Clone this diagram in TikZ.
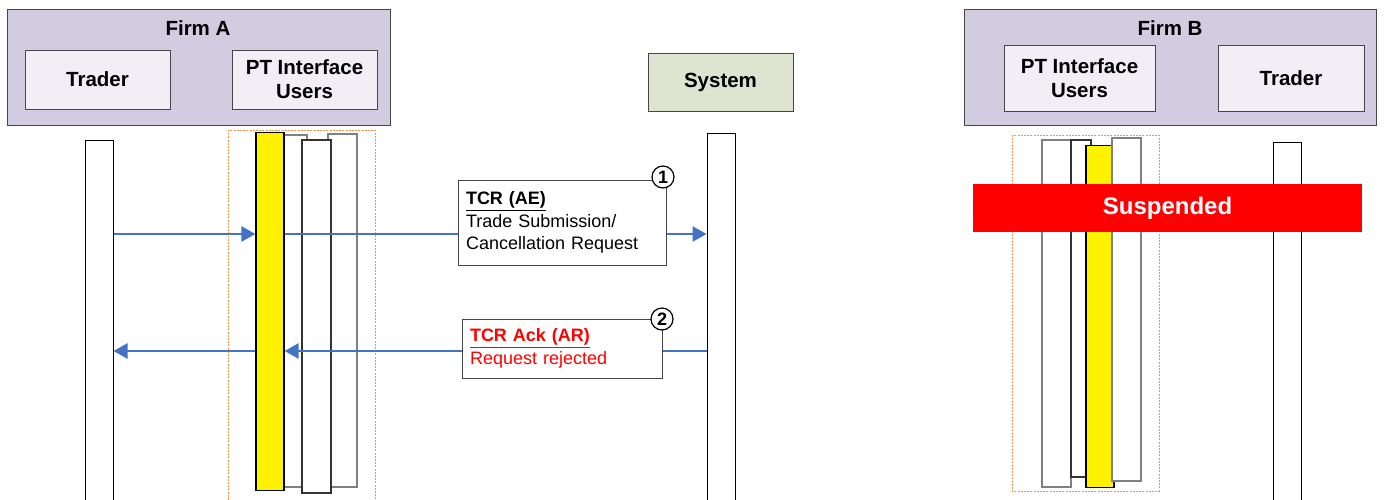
\documentclass[tikz,border=0pt]{standalone}
\usepackage{fontspec}
\setmainfont{Liberation Sans}
\usepackage{tikz}
\usetikzlibrary{arrows.meta,shapes}

\definecolor{firmfill}{RGB}{211,203,224}
\definecolor{boxfill}{RGB}{241,239,245}
\definecolor{sysfill}{RGB}{221,228,207}
\definecolor{msgblue}{RGB}{68,114,196}
\definecolor{grpline}{RGB}{242,150,80}
\definecolor{edgegray}{RGB}{70,70,70}

\tikzset{
  firm/.style={draw=edgegray, fill=firmfill, line width=1pt, inner sep=0pt},
  actor/.style={draw=edgegray, fill=boxfill, line width=1pt, align=center, inner sep=0pt,
    font=\fontsize{20.5}{24}\selectfont\bfseries},
  life/.style={draw=black, fill=white, line width=1pt, inner sep=0pt, anchor=north, minimum width=28pt},
  grp/.style={draw=grpline, line width=0.8pt, dash pattern=on 2pt off 1.2pt},
  msg/.style={draw=msgblue, line width=2.5pt, -{Triangle[length=14pt,width=15pt]}},
  note/.style={draw=edgegray, fill=white, line width=1pt, align=left, inner xsep=8pt,
    font=\fontsize{18}{22.5}\selectfont},
  num/.style={draw=black, fill=white, circle, line width=1.2pt, inner sep=0pt, minimum size=22pt,
    font=\fontsize{18}{18}\selectfont\bfseries}
}

\begin{document}
\begin{tikzpicture}[x=1pt,y=-1pt]
    \clip (0,0) rectangle (1384,499);
    \fill[white] (0,0) rectangle (1384,499);
    % Firmen
    \node[firm, minimum width=383pt, minimum height=116pt] (firmA) at (198.5,67) {};
    \node[font=\fontsize{20.5}{24}\selectfont\bfseries] (firmAlbl) at (198,28) {Firm A};
    \node[actor, minimum width=145pt, minimum height=59pt] (traderA) at (97.5,79.5) {Trader};
    \node[actor, minimum width=145pt, minimum height=59pt] (ptA) at (304.5,79.5) {PT Interface\\Users};

    \node[actor, fill=sysfill, minimum width=145pt, minimum height=58pt] (system) at (720.5,82) {System};

    \node[firm, minimum width=412pt, minimum height=116pt] (firmB) at (1170,67) {};
    \node[font=\fontsize{20.5}{24}\selectfont\bfseries] (firmBlbl) at (1170,28) {Firm B};
    \node[actor, minimum width=151pt, minimum height=66pt] (ptB) at (1079.5,78) {PT Interface\\Users};
    \node[actor, minimum width=146pt, minimum height=66pt] (traderB) at (1291,78) {Trader};

    % Lebenslinien
    \node[life, minimum height=380pt] (lifeTA) at (99,140) {};
    \node[life, minimum height=380pt] (lifeSys) at (721,133) {};
    \node[life, minimum height=380pt] (lifeTB) at (1287.5,142) {};

    % PT Interface Firm A
    \draw[grp] (228,130) rectangle (375,510);
    \draw[draw=gray, fill=white, line width=1.3pt] (256,135) rectangle (307,487);
    \draw[draw=gray, fill=white, line width=1.3pt] (328,134) rectangle (357,487);
    \draw[draw=black!80, fill=white, line width=1.2pt] (302,140) rectangle (331,493);
    \node[life, fill=yellow, line width=1.2pt, minimum height=358pt] (yelA) at (270,132) {};

    % PT Interface Firm B
    \draw[grp] (1012,135) rectangle (1159,491);
    \draw[draw=gray, fill=white, line width=1.3pt] (1042,140) rectangle (1071,487);
    \draw[draw=black!80, fill=white, line width=1.2pt] (1071,140) rectangle (1091,477);
    \node[life, fill=yellow, line width=1.2pt, minimum height=342pt] (yelB) at (1100,145) {};
    \draw[draw=gray, fill=white, line width=1.3pt] (1112,138) rectangle (1141,481);

    \node[fill=red, minimum width=389pt, minimum height=48pt, text=white,
          font=\fontsize{24}{28}\selectfont\bfseries] (susp) at (1167.5,208) {Suspended};

    % Pfeile
    \coordinate (m1) at (0,234);
    \coordinate (m2) at (0,351);
    \draw[msg] (lifeTA.east |- m1) -- (yelA.west |- m1);
    \draw[msg] (yelA.east |- m1) -- (lifeSys.west |- m1);
    \draw[msg] (lifeSys.west |- m2) -- (yelA.east |- m2);
    \draw[msg] (yelA.west |- m2) -- (lifeTA.east |- m2);

    % Nachrichten
    \node[note, text width=192pt, minimum height=85pt] (tcr) at (562,222.5)
        {\underline{\textbf{TCR (AE)}}\\Trade Submission/\\Cancellation Request};
    \node[num] (num1) at (663,177) {1};
    \node[note, text=red, text width=184pt, minimum height=59pt] (ack) at (562,348.5)
        {\underline{\textbf{TCR Ack (AR)}}\\Request rejected};
    \node[num] (num2) at (662,319) {2};
\end{tikzpicture}
\end{document}
